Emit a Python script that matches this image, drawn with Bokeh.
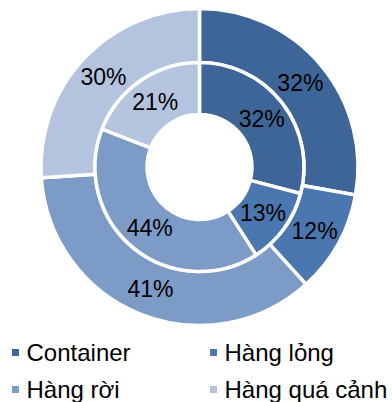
import math
from bokeh.plotting import figure
from bokeh.models import Range1d, ColumnDataSource
from bokeh.core.properties import value
from bokeh.embed import file_html
from bokeh.resources import INLINE

categories = ["Container", "Hàng lỏng", "Hàng rời", "Hàng quá cảnh"]
outer_values = [32, 12, 41, 30]
inner_values = [32, 13, 44, 21]
colors = ["#3E6597", "#4A77AF", "#7C9BC7", "#B4C4DE"]

W, H = 392, 402
p = figure(width=W, height=H, output_backend="svg", toolbar_location=None,
           x_range=Range1d(0, W), y_range=Range1d(0, H), min_border=0)
p.axis.visible = False
p.grid.visible = False
p.outline_line_color = None
p.background_fill_color = "white"

cx, cy = 199, H - 166.5
FONT = value("Liberation Sans")


def ring(vals, r_in, r_out):
    total = float(sum(vals))
    cum = 0.0
    starts, ends, lx, ly, labels = [], [], [], [], []
    for v in vals:
        a0 = math.pi / 2 - 2 * math.pi * cum / total
        cum += v
        a1 = math.pi / 2 - 2 * math.pi * cum / total
        starts.append(a0)
        ends.append(a1)
        mid = (a0 + a1) / 2
        rm = (r_in + r_out) / 2
        lx.append(cx + rm * math.cos(mid))
        ly.append(cy + rm * math.sin(mid))
        labels.append(f"{v}%")
    src = ColumnDataSource(dict(start=starts, end=ends, color=colors))
    p.annular_wedge(x=cx, y=cy, inner_radius=r_in - 1.5, outer_radius=r_out + 1.5,
                    start_angle="start", end_angle="end", direction="clock",
                    fill_color="color", line_color="white", line_width=3.5, source=src)
    p.text(x=lx, y=ly, text=labels, text_align="center", text_baseline="middle",
           text_font=FONT, text_font_size="23px", text_color="#000000")


ring(outer_values, 106, 157)
ring(inner_values, 54, 103)

# legend
lx = [15, 213, 15, 213]
ly = [H - 352, H - 352, H - 389, H - 389]
p.rect(x=lx, y=ly, width=7, height=7, fill_color=colors, line_color=None)
p.text(x=[x + 11 for x in lx], y=ly, text=categories, text_align="left",
       text_baseline="middle", text_font=FONT, text_font_size="24px",
       text_color="#000000")

open("out.html", "w").write(file_html(p, INLINE))
